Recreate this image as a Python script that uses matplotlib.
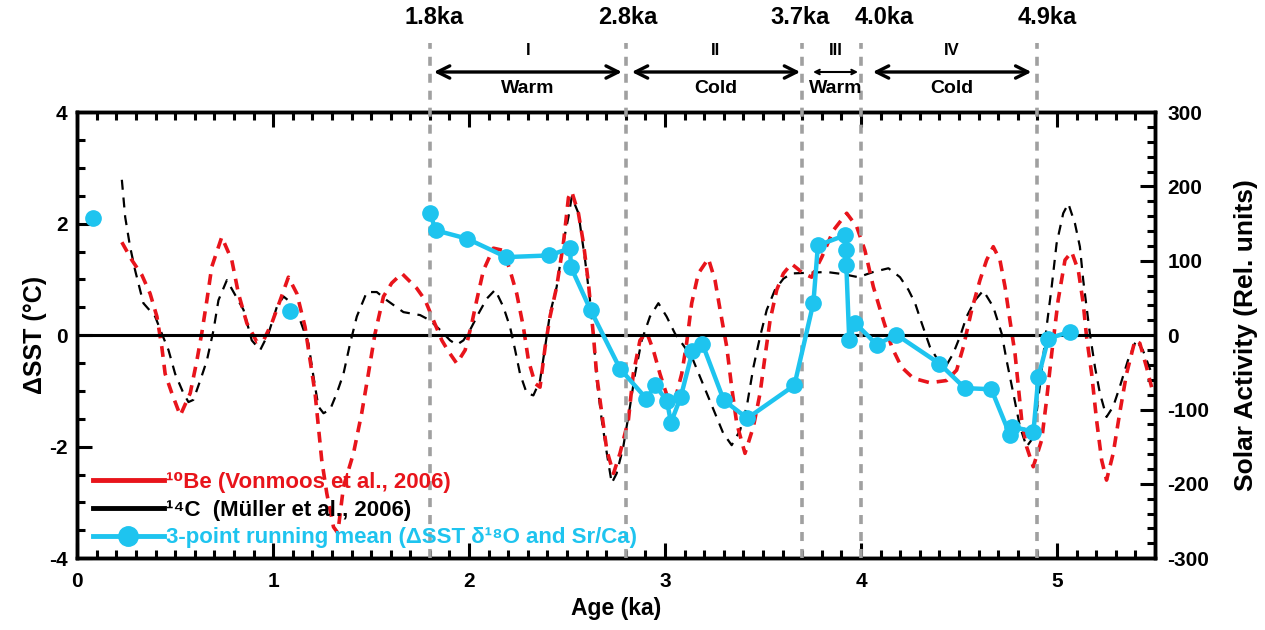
import matplotlib
matplotlib.use("Agg")
from matplotlib import pyplot as plt
from matplotlib.lines import Line2D
from matplotlib.ticker import MultipleLocator

plt.rcParams['font.family'] = ['Liberation Sans', 'DejaVu Sans']
plt.rcParams['font.weight'] = 'bold'
plt.rcParams['axes.unicode_minus'] = False

# 10Be solar activity (Vonmoos et al., 2006), rel. units
be_age = [0.228, 0.279, 0.33, 0.372, 0.407, 0.432, 0.449, 0.483, 0.526, 0.577, 0.611, 0.636,
          0.662, 0.687, 0.738, 0.789, 0.823, 0.866, 0.917, 0.951, 0.993, 1.036, 1.078, 1.121,
          1.163, 1.189, 1.214, 1.231, 1.248, 1.274, 1.308, 1.33, 1.359, 1.41, 1.452, 1.486,
          1.52, 1.563, 1.605, 1.657, 1.733, 1.776, 1.818, 1.861, 1.895, 1.937, 1.98, 2.014,
          2.039, 2.073, 2.124, 2.175, 2.209, 2.243, 2.277, 2.303, 2.337, 2.362, 2.388, 2.413,
          2.447, 2.481, 2.507, 2.524, 2.558, 2.584, 2.609, 2.635, 2.652, 2.677, 2.703, 2.737,
          2.77, 2.813, 2.838, 2.872, 2.906, 2.94, 2.974, 3.017, 3.051, 3.085, 3.11, 3.136,
          3.17, 3.221, 3.255, 3.281, 3.315, 3.34, 3.366, 3.408, 3.451, 3.485, 3.51, 3.536,
          3.57, 3.604, 3.645, 3.706, 3.748, 3.80, 3.859, 3.927, 3.978, 4.02, 4.063, 4.114,
          4.157, 4.207, 4.267, 4.352, 4.437, 4.488, 4.522, 4.565, 4.607, 4.641, 4.675, 4.709,
          4.735, 4.76, 4.786, 4.803, 4.82, 4.845, 4.879, 4.922, 4.947, 4.973, 5.006, 5.041,
          5.075, 5.109, 5.134, 5.151, 5.177, 5.202, 5.228, 5.253, 5.287, 5.32, 5.355, 5.398,
          5.423, 5.457, 5.483]
be_val = [125, 101, 81, 56, 25, -16, -52, -78, -108, -78, -34, 3,
          47, 92, 132, 101, 56, 16, -9, -7, 16, 47, 78, 56,
          11, -34, -78, -123, -168, -213, -258, -266, -204, -159, -105, -52,
          2, 52, 70, 83, 63, 47, 20, -7, -22, -38, -20, 16,
          47, 87, 117, 114, 87, 56, 11, -34, -65, -70, -16, 25,
          65, 123, 185, 193, 164, 123, 70, -2, -56, -105, -155, -186,
          -159, -114, -52, -7, 4, -20, -52, -87, -87, -52, -11, 43,
          83, 103, 74, 34, -16, -70, -119, -159, -123, -78, -29, 20,
          61, 83, 96, 83, 78, 105, 141, 164, 146, 114, 65, 20,
          -16, -43, -58, -64, -61, -47, -16, 34, 74, 101, 119, 101,
          65, 20, -25, -70, -114, -150, -177, -141, -87, -25, 47, 101,
          112, 87, 43, -2, -52, -114, -168, -195, -159, -105, -52, -7,
          -11, -43, -70]

# 14C solar activity (Muller et al., 2006), rel. units
c_age = [0.228, 0.245, 0.27, 0.296, 0.338, 0.398, 0.432, 0.466, 0.50, 0.542, 0.568, 0.593,
         0.628, 0.662, 0.696, 0.721, 0.764, 0.798, 0.849, 0.891, 0.934, 0.976, 1.019, 1.053,
         1.095, 1.138, 1.18, 1.206, 1.231, 1.257, 1.291, 1.325, 1.359, 1.393, 1.427, 1.478,
         1.529, 1.58, 1.665, 1.75, 1.80, 1.852, 1.903, 1.937, 1.971, 2.005, 2.048, 2.09,
         2.133, 2.175, 2.209, 2.235, 2.26, 2.294, 2.328, 2.362, 2.388, 2.413, 2.447, 2.48,
         2.507, 2.524, 2.558, 2.592, 2.617, 2.635, 2.652, 2.677, 2.703, 2.728, 2.753, 2.787,
         2.821, 2.847, 2.881, 2.923, 2.966, 3.008, 3.051, 3.10, 3.144, 3.186, 3.22, 3.255,
         3.297, 3.34, 3.383, 3.417, 3.451, 3.485, 3.519, 3.561, 3.604, 3.646, 3.74, 3.825,
         3.91, 3.986, 4.063, 4.14, 4.199, 4.242, 4.276, 4.31, 4.352, 4.403, 4.437, 4.47,
         4.505, 4.539, 4.582, 4.624, 4.675, 4.718, 4.743, 4.777, 4.811, 4.845, 4.87, 4.896,
         4.922, 4.947, 4.973, 4.998, 5.032, 5.058, 5.092, 5.117, 5.134, 5.151, 5.168, 5.194,
         5.219, 5.253, 5.287, 5.32, 5.362, 5.404, 5.438, 5.464, 5.49]
c_val = [209, 159, 119, 87, 43, 25, 2, -20, -52, -78, -90, -87,
         -61, -34, 7, 47, 74, 58, 34, -7, -20, 2, 38, 52,
         43, 20, -11, -56, -96, -105, -100, -78, -52, -11, 25, 58,
         58, 47, 31, 27, 20, 7, -7, -13, -7, 7, 29, 49,
         61, 38, 11, -20, -52, -78, -81, -61, -16, 29, 65, 123,
         159, 186, 164, 101, 47, -2, -61, -114, -159, -199, -186, -150,
         -96, -52, -7, 25, 43, 25, 2, -16, -34, -61, -83, -105,
         -132, -148, -128, -96, -43, -2, 34, 61, 76, 83, 84, 85,
         82, 78, 85, 90, 78, 61, 43, 16, -16, -38, -40, -25,
         -2, 25, 47, 60, 38, 2, -34, -78, -123, -150, -141, -105,
         -47, 11, 65, 123, 164, 177, 150, 119, 74, 38, 2, -43,
         -78, -110, -96, -70, -34, -7, -20, -38, -56]

# 3-point running mean of dSST (deg C)
sst_age = [1.80, 1.83, 1.99, 2.19, 2.41, 2.515, 2.52, 2.62, 2.77, 2.905, 2.95, 3.01,
           3.03, 3.08, 3.14, 3.19, 3.30, 3.42, 3.66, 3.757, 3.78, 3.918, 3.925, 3.925,
           3.94, 3.97, 4.08, 4.18, 4.40, 4.53, 4.665, 4.76, 4.768, 4.88, 4.905, 4.956, 5.066]
sst_val = [2.19, 1.88, 1.73, 1.40, 1.43, 1.56, 1.22, 0.45, -0.60, -1.14, -0.90, -1.18,
           -1.57, -1.11, -0.29, -0.15, -1.17, -1.49, -0.90, 0.58, 1.61, 1.79, 1.52, 1.26,
           -0.09, 0.22, -0.17, 0.01, -0.51, -0.95, -0.97, -1.79, -1.64, -1.73, -0.75, -0.06, 0.06]
iso_age = [0.082, 1.087]
iso_val = [2.10, 0.43]

bounds = [1.8, 2.8, 3.7, 4.0, 4.9]
bound_labels = ["1.8ka", "2.8ka", "3.7ka", "4.0ka", "4.9ka"]
bound_label_x = [1.82, 2.81, 3.69, 4.12, 4.95]
periods = ["I", "II", "III", "IV"]
period_words = ["Warm", "Cold", "Warm", "Cold"]
period_start = [1.82, 2.83, 3.755, 4.06]
period_end = [2.78, 3.69, 3.985, 4.87]

red = "#e8141b"
cyan = "#1ec4ef"

fig = plt.figure(figsize=(12.65, 6.3), dpi=100)
ax = fig.add_axes([0.061, 0.114, 0.852, 0.708])
ax2 = ax.twinx()
ax.set_zorder(2)
ax.patch.set_visible(False)
ax2.set_zorder(1)

ax2.plot(c_age, c_val, color="black", lw=1.6, linestyle=(0, (4.5, 3.5)))
ax2.plot(be_age, be_val, color=red, lw=2.6, linestyle=(0, (3.0, 2.2)))
ax2.set_ylim(-300, 300)

ax.axhline(0, color="black", lw=2.2, zorder=1)
ax.plot(sst_age, sst_val, color=cyan, lw=3.2, marker="o", ms=11, zorder=5)
ax.plot(iso_age, iso_val, color=cyan, lw=0, marker="o", ms=11, zorder=5)
ax.set_xlim(0, 5.5)
ax.set_ylim(-4, 4)

# period boundaries and annotations above the axes
for b in bounds:
    ax.plot([b, b], [-4, 5.24], color="#a0a0a0", lw=2.6, linestyle=(0, (2.5, 2.2)),
            clip_on=False, zorder=3)
for x, t in zip(bound_label_x, bound_labels):
    ax.text(x, 5.69, t, ha="center", va="center", fontsize=17, fontweight="bold")
for i in range(len(periods)):
    small = periods[i] == "III"
    ax.annotate("", xy=(period_start[i], 4.72), xytext=(period_end[i], 4.72),
                arrowprops=dict(arrowstyle="<->", color="black",
                                lw=1.5 if small else 2.4,
                                mutation_scale=8 if small else 22,
                                shrinkA=0, shrinkB=0),
                annotation_clip=False)
    mid = (period_start[i] + period_end[i]) / 2
    ax.text(mid, 5.11, periods[i], ha="center", va="center", fontsize=12, fontweight="bold")
    ax.text(mid, 4.43, period_words[i], ha="center", va="center", fontsize=14, fontweight="bold")

for a in (ax, ax2):
    for s in a.spines.values():
        s.set_linewidth(2.5)

ax.xaxis.set_major_locator(MultipleLocator(1))
ax.xaxis.set_minor_locator(MultipleLocator(0.1))
ax.yaxis.set_major_locator(MultipleLocator(2))
ax.yaxis.set_minor_locator(MultipleLocator(0.5))
ax2.yaxis.set_major_locator(MultipleLocator(100))
ax2.yaxis.set_minor_locator(MultipleLocator(20))
ax.tick_params(which="both", direction="in", top=True, right=False, width=2.2, labelsize=15)
ax.tick_params(axis="x", pad=10)
ax.tick_params(axis="y", pad=7)
ax.tick_params(which="major", length=11)
ax.tick_params(which="minor", length=6)
ax2.tick_params(which="both", direction="in", width=2.2, labelsize=15, pad=9)
ax2.tick_params(which="major", length=11)
ax2.tick_params(which="minor", length=6)
for lab in ax.get_xticklabels() + ax.get_yticklabels() + ax2.get_yticklabels():
    lab.set_fontweight("bold")

ax.set_xlabel("Age (ka)", fontsize=16.5, fontweight="bold", labelpad=4)
ax.set_ylabel("\u0394SST (\u00b0C)", fontsize=18, fontweight="bold", labelpad=1)
ax2.set_ylabel("Solar Activity (Rel. units)", fontsize=19, fontweight="bold", labelpad=18)

handles = [Line2D([], [], color=red, lw=3.5),
           Line2D([], [], color="black", lw=3.5),
           Line2D([], [], color=cyan, lw=3.5, marker="o", ms=14)]
labels = ["\u00b9\u2070Be (Vonmoos et al., 2006)",
          "\u00b9\u2074C  (M\u00fcller et al., 2006)",
          "3-point running mean (\u0394SST \u03b4\u00b9\u2078O and Sr/Ca)"]
leg = ax.legend(handles, labels, loc="lower left", bbox_to_anchor=(0.0, -0.013),
                frameon=False, fontsize=16, handlelength=3.2, handletextpad=0.1,
                labelspacing=0.3, borderaxespad=0.3)
for txt, c in zip(leg.get_texts(), [red, "black", cyan]):
    txt.set_color(c)
    txt.set_fontweight("bold")

fig.savefig("out.png", dpi=100)
